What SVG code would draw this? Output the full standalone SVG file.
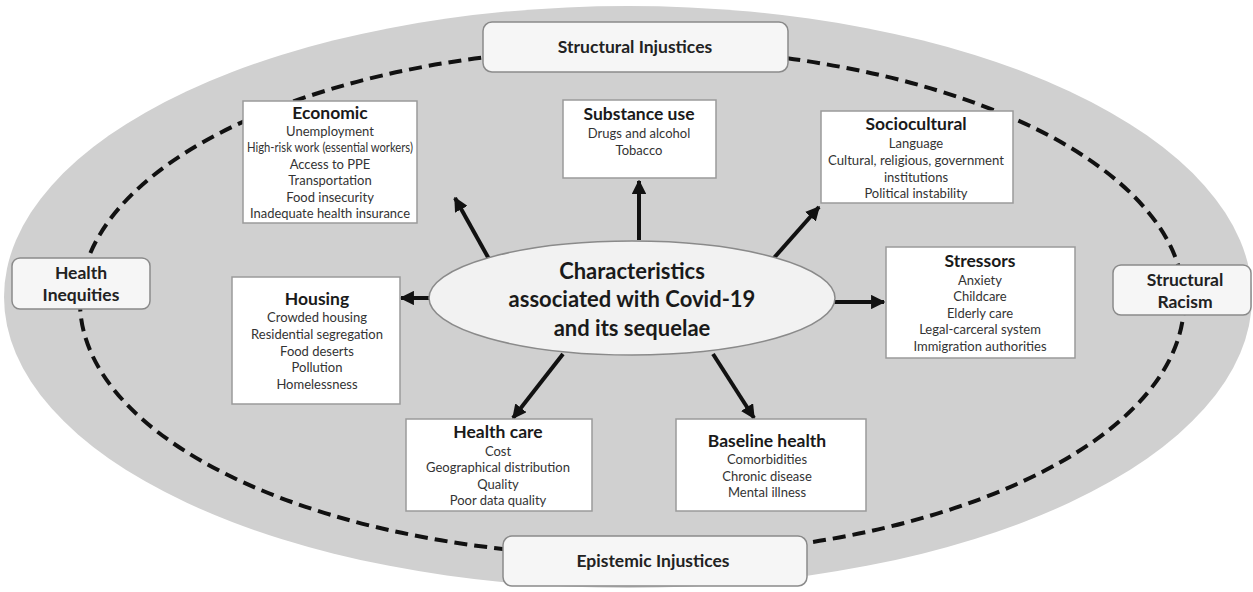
<svg xmlns="http://www.w3.org/2000/svg" width="1253" height="592" viewBox="0 0 1253 592">
  <defs>
    <marker id="arrowhead" viewBox="0 0 10 10" refX="9" refY="5" markerWidth="3.6" markerHeight="3.6" orient="auto" markerUnits="strokeWidth">
      <path d="M0,0 L10,5 L0,10 z" fill="#111"/>
    </marker>
    <style>
      .field { fill: #d0d0d0; }
      .boundary { fill: none; stroke: #111; stroke-width: 4; stroke-dasharray: 13 7; }
      .frame { fill: #f6f6f6; stroke: #8a8a8a; stroke-width: 1.5; }
      .box { fill: #ffffff; stroke: #9a9a9a; stroke-width: 1.5; }
      .core { fill: #f2f2f2; stroke: #8a8a8a; stroke-width: 1.5; }
      .arrow { stroke: #111; stroke-width: 4; fill: none; marker-end: url(#arrowhead); }
      text { font-family: Lato, "Open Sans", "Liberation Sans", sans-serif; text-anchor: middle; }
      .head { font-size: 17.5px; font-weight: bold; fill: #1a1a1a; }
      .item { font-size: 13px; fill: #333; }
      .frametext { font-size: 17.5px; font-weight: bold; fill: #222; }
      .coretext { font-size: 22px; font-weight: bold; fill: #1a1a1a; }
    </style>
  </defs>

  <!-- background field and dashed boundary -->
  <ellipse class="field" cx="628" cy="297" rx="624" ry="291"/>
  <ellipse class="boundary" cx="632" cy="302" rx="552" ry="254"/>

  <!-- connectors -->
  <g id="connectors">
    <line class="arrow" x1="639" y1="240" x2="639" y2="181"/>
    <line class="arrow" x1="489" y1="259" x2="455" y2="198"/>
    <line class="arrow" x1="773" y1="259" x2="819" y2="207"/>
    <line class="arrow" x1="834" y1="302" x2="884" y2="302"/>
    <line class="arrow" x1="432" y1="298" x2="401" y2="298"/>
    <line class="arrow" x1="563" y1="354" x2="513" y2="418"/>
    <line class="arrow" x1="713" y1="354" x2="754" y2="418"/>
  </g>

  <g id="structural-injustices">
    <rect class="frame" x="483" y="22" width="305" height="50" rx="9"/>
    <text class="frametext" x="635" y="53">Structural Injustices</text>
  </g>

  <g id="epistemic-injustices">
    <rect class="frame" x="503" y="536" width="304" height="50" rx="9"/>
    <text class="frametext" x="653" y="567">Epistemic Injustices</text>
  </g>

  <g id="health-inequities">
    <rect class="frame" x="12" y="258" width="138" height="51" rx="8"/>
    <text class="frametext" x="81" y="279">Health</text>
    <text class="frametext" x="81" y="301">Inequities</text>
  </g>

  <g id="structural-racism">
    <rect class="frame" x="1113" y="265" width="138" height="50" rx="8"/>
    <text class="frametext" x="1185" y="286">Structural</text>
    <text class="frametext" x="1185" y="308">Racism</text>
  </g>

  <g id="core">
    <ellipse class="core" cx="632" cy="298" rx="203" ry="57"/>
    <text class="coretext" x="632" y="279">Characteristics</text>
    <text class="coretext" x="632" y="307">associated with Covid-19</text>
    <text class="coretext" x="632" y="336">and its sequelae</text>
  </g>

  <g id="economic">
    <rect class="box" x="243" y="101" width="174" height="122"/>
    <text class="head" x="330" y="119">Economic</text>
    <text class="item" x="330" y="136">Unemployment</text>
    <text class="item" x="330" y="152" textLength="166" lengthAdjust="spacingAndGlyphs">High-risk work (essential workers)</text>
    <text class="item" x="330" y="169">Access to PPE</text>
    <text class="item" x="330" y="185">Transportation</text>
    <text class="item" x="330" y="202">Food insecurity</text>
    <text class="item" x="330" y="218" textLength="160" lengthAdjust="spacingAndGlyphs">Inadequate health insurance</text>
  </g>

  <g id="substance-use">
    <rect class="box" x="563" y="100" width="153" height="78"/>
    <text class="head" x="639" y="120">Substance use</text>
    <text class="item" x="639" y="138">Drugs and alcohol</text>
    <text class="item" x="639" y="155">Tobacco</text>
  </g>

  <g id="sociocultural">
    <rect class="box" x="821" y="111" width="192" height="92"/>
    <text class="head" x="916" y="130">Sociocultural</text>
    <text class="item" x="916" y="148">Language</text>
    <text class="item" x="916" y="165" textLength="176" lengthAdjust="spacingAndGlyphs">Cultural, religious, government</text>
    <text class="item" x="916" y="182">institutions</text>
    <text class="item" x="916" y="198">Political instability</text>
  </g>

  <g id="stressors">
    <rect class="box" x="886" y="247" width="189" height="111"/>
    <text class="head" x="980" y="267">Stressors</text>
    <text class="item" x="980" y="285">Anxiety</text>
    <text class="item" x="980" y="301">Childcare</text>
    <text class="item" x="980" y="318">Elderly care</text>
    <text class="item" x="980" y="334">Legal-carceral system</text>
    <text class="item" x="980" y="351">Immigration authorities</text>
  </g>

  <g id="housing">
    <rect class="box" x="232" y="277" width="168" height="127"/>
    <text class="head" x="317" y="305">Housing</text>
    <text class="item" x="317" y="322">Crowded housing</text>
    <text class="item" x="317" y="339">Residential segregation</text>
    <text class="item" x="317" y="356">Food deserts</text>
    <text class="item" x="317" y="372">Pollution</text>
    <text class="item" x="317" y="389">Homelessness</text>
  </g>

  <g id="health-care">
    <rect class="box" x="406" y="419" width="186" height="92"/>
    <text class="head" x="498" y="438">Health care</text>
    <text class="item" x="498" y="456">Cost</text>
    <text class="item" x="498" y="472">Geographical distribution</text>
    <text class="item" x="498" y="489">Quality</text>
    <text class="item" x="498" y="505">Poor data quality</text>
  </g>

  <g id="baseline-health">
    <rect class="box" x="676" y="419" width="190" height="92"/>
    <text class="head" x="767" y="447">Baseline health</text>
    <text class="item" x="767" y="464">Comorbidities</text>
    <text class="item" x="767" y="481">Chronic disease</text>
    <text class="item" x="767" y="497">Mental illness</text>
  </g>
</svg>
